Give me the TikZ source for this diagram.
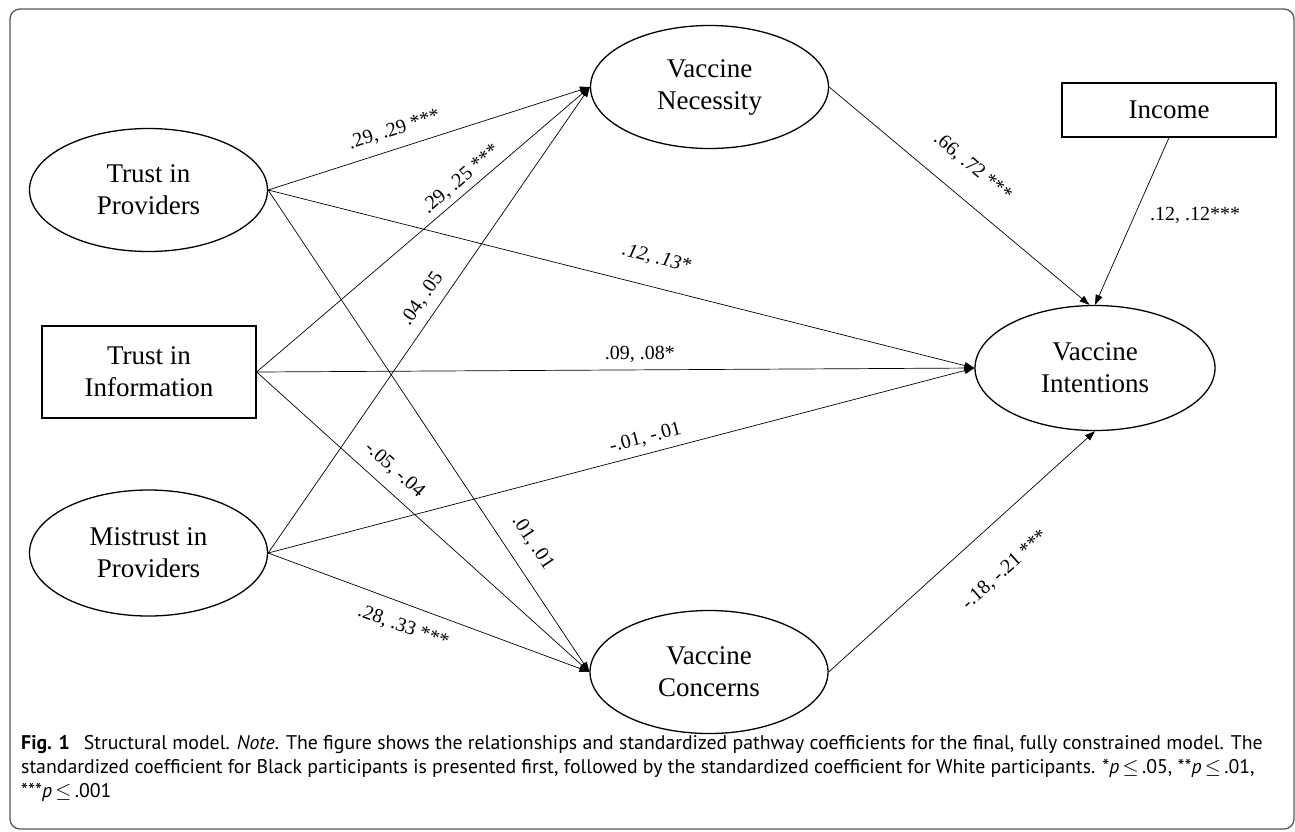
\documentclass[tikz,border=0pt]{standalone}
\usepackage{fontspec}
\setmainfont{Liberation Serif}
\newfontfamily\capfont{PT Sans}
\usetikzlibrary{shapes.geometric,arrows.meta}
\begin{document}
\begin{tikzpicture}[x=1pt,y=-1pt,
  ell/.style={ellipse,draw,line width=1.3pt,minimum width=238pt,minimum height=123pt,inner sep=0pt,align=center,font=\fontsize{27}{32}\selectfont},
  box/.style={rectangle,draw,line width=1.3pt,inner sep=0pt,align=center,font=\fontsize{27}{32}\selectfont},
  conn/.style={line width=0.7pt,-{Triangle[length=10pt,width=7pt]}},
  lab/.style={font=\fontsize{20}{24}\selectfont,inner sep=0pt,sloped},
  caption/.style={anchor=base west,inner sep=0pt,font=\capfont\fontsize{19.8}{23}\selectfont},
  frame/.style={rounded corners=10pt,draw=black!65,line width=1.3pt}]
\useasboundingbox[fill=white] (0,0) rectangle (1295,831);
\draw[frame] (10,9) rectangle (1294,829);

\node[ell] (tp) at (148.5,190) {Trust in\\Providers};
\node[box,minimum width=214pt,minimum height=92pt] (ti) at (149,372) {Trust in\\Information};
\node[ell,minimum height=126pt] (mp) at (148.5,553) {Mistrust in\\Providers};
\node[ell] (vn) at (709.5,87) {Vaccine\\Necessity};
\node[ell,minimum width=240pt,minimum height=125pt] (vi) at (1095,368) {Vaccine\\Intentions};
\node[ell] (vc) at (709,672) {Vaccine\\Concerns};
\node[box,minimum width=214pt,minimum height=54pt] (inc) at (1169,110) {Income};

\draw[conn] (tp.east) -- node[lab,pos=.41,above=10pt] (l1) {.29, .29 ***} (vn.west);
\draw[conn] (tp.east) -- node[lab,pos=.54,above=20pt] (l2) {\itshape .12, .13*} (vi.west);
\draw[conn] (tp.east) -- node[lab,pos=.76,above=16pt] (l3) {.01, .01} (vc.west);
\draw[conn] (ti.east) -- node[lab,pos=.64,above=5pt] (l4) {.29, .25 ***} (vn.west);
\draw[conn] (ti.east) -- node[lab,pos=.534,above=7pt] (l5) {.09, .08*} (vi.west);
\draw[conn] (ti.east) -- node[lab,pos=.375,above=11pt] (l6) {-.05, -.04} (vc.west);
\draw[conn] (mp.east) -- node[lab,pos=.524,above=9pt] (l7) {.04, .05} (vn.west);
\draw[conn] (mp.east) -- node[lab,pos=.54,above=7pt] (l8) {-.01, -.01} (vi.west);
\draw[conn] (mp.east) -- node[lab,pos=.445,below=14pt] (l9) {.28, .33 ***} (vc.west);
\draw[conn] (vn.east) -- node[lab,pos=.476,above=22pt] (l10) {.66, .72 ***} (vi.95);
\draw[conn] (inc.south) -- node[font=\fontsize{20}{24}\selectfont,inner sep=0pt,pos=.464,right=15pt] (l11) {.12, .12***} (vi.north);
\draw[conn] (vc.east) -- node[lab,pos=.555,below=34pt] (l12) {-.18, -.21 ***} (vi.south);

\node[caption] (cap1) at (21,749) {\textbf{Fig. 1}\hspace{0.7em}Structural model. \textit{Note}. The figure shows the relationships and standardized pathway coefficients for the final, fully constrained model. The};
\node[caption] (cap2) at (21,773) {standardized coefficient for Black participants is presented first, followed by the standardized coefficient for White participants. *\textit{p}\,$\le$\,.05, **\textit{p}\,$\le$\,.01,};
\node[caption] (cap3) at (21,797) {***\textit{p}\,$\le$\,.001};
\end{tikzpicture}
\end{document}
